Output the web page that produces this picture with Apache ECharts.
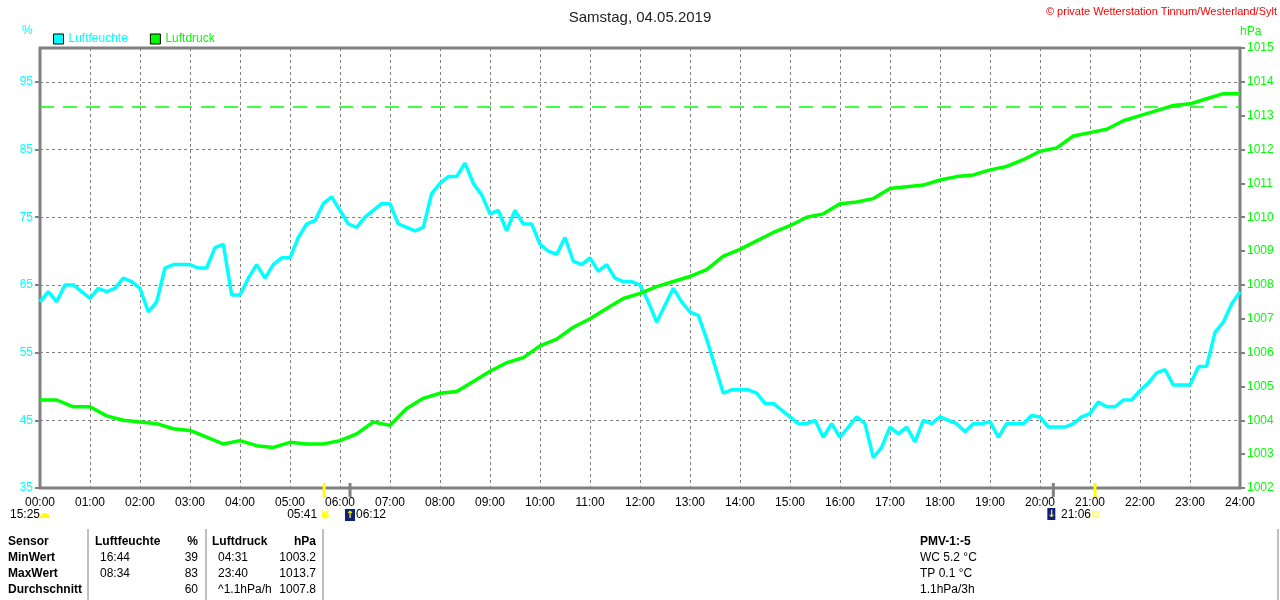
<!DOCTYPE html>
<html>
<head>
<meta charset="utf-8">
<title>Samstag, 04.05.2019</title>
<script src="https://cdn.jsdelivr.net/npm/echarts@6/dist/echarts.min.js"></script>
<style>
  html, body { margin: 0; padding: 0; background: #fff; }
  #main { width: 1280px; height: 600px; }
</style>
</head>
<body>
<div id="main"></div>
<script>
// Luftfeuchte in %, alle 10 Minuten ab 00:00
const humidity = [
  62.5, 64, 62.5, 65, 65, 64, 63, 64.5, 64, 64.5, 66, 65.5,
  64.5, 61, 62.5, 67.5, 68, 68, 68, 67.5, 67.5, 70.5, 71, 63.5,
  63.5, 66, 68, 66, 68, 69, 69, 72, 74, 74.5, 77, 78,
  76, 74, 73.5, 75, 76, 77, 77, 74, 73.5, 73, 73.5, 78.5,
  80, 81, 81, 83, 80, 78.3, 75.5, 76, 73, 76, 74, 74,
  71, 70, 69.5, 72, 68.5, 68, 69, 67, 68, 66, 65.5, 65.5,
  65, 62.5, 59.5, 62, 64.5, 62.5, 61, 60.5, 57, 53, 49, 49.5,
  49.5, 49.5, 49, 47.5, 47.5, 46.5, 45.5, 44.5, 44.5, 45, 42.5, 44.5,
  42.5, 44, 45.5, 44.5, 39.5, 41, 44, 43, 44, 41.8, 45, 44.5,
  45.5, 45, 44.5, 43.3, 44.5, 44.5, 44.8, 42.5, 44.5, 44.5, 44.5, 45.7,
  45.5, 44, 44, 44, 44.5, 45.5, 46, 47.7, 47, 47, 48, 48,
  49.4, 50.5, 52, 52.5, 50.2, 50.2, 50.2, 52.9, 53, 58, 59.5, 62.2,
  64
]
// Luftdruck in hPa, alle 20 Minuten ab 00:00
const pressure = [
  1004.6, 1004.6, 1004.4, 1004.4, 1004.13, 1004.0, 1003.95, 1003.9, 1003.75,
  1003.7, 1003.5, 1003.3, 1003.4, 1003.25, 1003.2, 1003.35, 1003.3, 1003.3, 1003.4,
  1003.6, 1003.95, 1003.85, 1004.35, 1004.65, 1004.8, 1004.85, 1005.15, 1005.45,
  1005.7, 1005.85, 1006.2, 1006.4, 1006.75, 1007.0, 1007.3, 1007.6, 1007.75,
  1007.95, 1008.1, 1008.25, 1008.45, 1008.85, 1009.05, 1009.3, 1009.55, 1009.75,
  1010.0, 1010.1, 1010.4, 1010.45, 1010.55, 1010.85, 1010.9, 1010.95, 1011.1,
  1011.2, 1011.25, 1011.4, 1011.5, 1011.7, 1011.95, 1012.05, 1012.4, 1012.5,
  1012.6, 1012.85, 1013.0, 1013.15, 1013.3, 1013.35, 1013.5, 1013.65, 1013.65
]
const humStep = 10
const presStep = 20
const normPressure = 1013.25

// Tabelle unten
const tableRows = [
  ['Sensor', 'Luftfeuchte', '%', 'Luftdruck', 'hPa'],
  ['MinWert', '16:44', '39', '04:31', '1003.2'],
  ['MaxWert', '08:34', '83', '23:40', '1013.7'],
  ['Durchschnitt', '', '60', '^1.1hPa/h', '1007.8']
]
const pmvLines = ['PMV-1:-5', 'WC 5.2 °C', 'TP 0.1 °C', '1.1hPa/3h']

// Sonne / Mond (Minuten)
const sunrise = 341   // 05:41
const moonA = 372     // 06:12
const moonB = 1216
const sunset = 1266   // 21:06

const FONT = '"Liberation Sans", Arial, sans-serif'
const CYAN = '#00ffff'
const GREEN = '#00ff00'
const GRAY = '#808080'

function pad(n) { return (n < 10 ? '0' : '') + n }

let myChart = echarts.init(document.getElementById('main'))

myChart.setOption({
  animation: false,
  backgroundColor: '#fff',
  textStyle: { fontFamily: FONT },
  title: {
    text: 'Samstag, 04.05.2019',
    left: 'center',
    top: 5,
    textStyle: { fontSize: 15, fontWeight: 'normal', color: '#222', fontFamily: FONT }
  },
  legend: {
    left: 48,
    top: 28,
    icon: 'rect',
    itemWidth: 10,
    itemHeight: 10,
    itemGap: 22,
    itemStyle: { borderColor: '#000', borderWidth: 1 },
    data: [
      { name: 'Luftfeuchte', textStyle: { color: CYAN } },
      { name: 'Luftdruck', textStyle: { color: GREEN } }
    ],
    textStyle: { fontSize: 12, fontFamily: FONT }
  },
  grid: {
    left: 40, right: 40, top: 48, bottom: 112,
    show: true, borderColor: GRAY, borderWidth: 3
  },
  xAxis: {
    type: 'value',
    min: 0, max: 1440, interval: 60,
    axisLine: { show: false },
    axisTick: { show: false },
    axisLabel: {
      color: '#000', fontSize: 12, margin: 9, fontFamily: FONT,
      formatter: v => pad(v / 60) + ':00'
    },
    splitLine: { show: true, lineStyle: { color: GRAY, type: [3, 3], width: 1 } }
  },
  yAxis: [
    {
      type: 'value',
      min: 35, max: 100, interval: 10,
      axisLine: { show: false },
      axisTick: { show: true, length: 5, lineStyle: { color: GRAY, width: 2 } },
      axisLabel: { color: CYAN, fontSize: 12, margin: 7, showMaxLabel: false, fontFamily: FONT },
      splitLine: { show: true, lineStyle: { color: GRAY, type: [3, 3], width: 1 } }
    },
    {
      type: 'value',
      min: 1002, max: 1015, interval: 1,
      axisLine: { show: false },
      axisTick: { show: true, length: 5, lineStyle: { color: GRAY, width: 2 } },
      axisLabel: { color: GREEN, fontSize: 12, margin: 7, fontFamily: FONT, formatter: v => String(v) },
      splitLine: { show: false }
    }
  ],
  series: [
    {
      name: 'Luftfeuchte',
      type: 'line',
      yAxisIndex: 0,
      showSymbol: false,
      color: CYAN,
      lineStyle: { width: 3.5, color: CYAN },
      data: humidity.map((v, i) => [i * humStep, v]),
      z: 3
    },
    {
      name: 'Luftdruck',
      type: 'line',
      yAxisIndex: 1,
      showSymbol: false,
      color: GREEN,
      lineStyle: { width: 3.5, color: GREEN },
      data: pressure.map((v, i) => [i * presStep, v]),
      markLine: {
        silent: true,
        symbol: 'none',
        label: { show: false },
        lineStyle: { color: GREEN, type: [14, 9], width: 1.5 },
        data: [{ yAxis: normPressure }]
      },
      z: 4
    }
  ]
})

// Zusatzgrafik: Achsennamen, Copyright, Sonne/Mond, Tabelle
function px(t) { return myChart.convertToPixel({ xAxisIndex: 0 }, t) }
const axisY = myChart.convertToPixel({ yAxisIndex: 0 }, 35)

let g = []
g.push({ type: 'text', left: 22, top: 25, style: { text: '%', fill: CYAN, font: '12px ' + FONT } })
g.push({ type: 'text', left: 1240, top: 26, style: { text: 'hPa', fill: GREEN, font: '12px ' + FONT } })
g.push({ type: 'text', right: 3, top: 6, style: { text: '© private Wetterstation Tinnum/Westerland/Sylt', fill: '#ff0000', font: '11px ' + FONT } })

// Markierungen an der Zeitachse
;[[sunrise, '#ffff00'], [moonA, GRAY], [moonB, GRAY], [sunset, '#ffff00']].forEach(([t, c]) => {
  const x = px(t)
  g.push({ type: 'line', shape: { x1: x, y1: axisY - 5, x2: x, y2: axisY + 9 }, style: { stroke: c, lineWidth: 3 }, z: 10 })
})

const iconY = 515
g.push({ type: 'text', x: 10, y: iconY, style: { text: '15:25', fill: '#000', font: '12px ' + FONT, textVerticalAlign: 'middle' } })
g.push({ type: 'sector', shape: { cx: 45, cy: iconY + 3, r: 5, r0: 0, startAngle: Math.PI, endAngle: Math.PI * 2 }, style: { fill: '#ffff00' } })
g.push({ type: 'text', x: px(sunrise) - 7, y: iconY, style: { text: '05:41', fill: '#000', font: '12px ' + FONT, textAlign: 'right', textVerticalAlign: 'middle' } })
g.push({ type: 'circle', shape: { cx: px(sunrise) + 1, cy: iconY, r: 3.5 }, style: { fill: '#ffff00' } })
g.push({ type: 'text', x: px(sunrise) + 1, y: iconY, style: { text: '✳', fill: '#ffff40', font: '13px "DejaVu Sans"', textAlign: 'center', textVerticalAlign: 'middle' } })
g.push({ type: 'rect', shape: { x: px(moonA) - 5, y: iconY - 6, width: 10, height: 12 }, style: { fill: '#10207a' } })
g.push({ type: 'text', x: px(moonA), y: iconY, style: { text: '↑', fill: '#ffff00', font: 'bold 10px "DejaVu Sans"', textAlign: 'center', textVerticalAlign: 'middle' } })
g.push({ type: 'text', x: px(moonA) + 6, y: iconY, style: { text: '06:12', fill: '#000', font: '12px ' + FONT, textVerticalAlign: 'middle' } })
g.push({ type: 'rect', shape: { x: px(moonB) - 6, y: iconY - 7, width: 8, height: 12 }, style: { fill: '#10207a' } })
g.push({ type: 'text', x: px(moonB) - 2, y: iconY - 1, style: { text: '↓', fill: '#ffff00', font: 'bold 10px "DejaVu Sans"', textAlign: 'center', textVerticalAlign: 'middle' } })
g.push({ type: 'text', x: px(sunset) - 34, y: iconY, style: { text: '21:06', fill: '#000', font: '12px ' + FONT, textVerticalAlign: 'middle' } })
g.push({ type: 'rect', shape: { x: px(sunset) - 2, y: iconY - 3, width: 5, height: 5 }, style: { fill: 'none', stroke: '#ffff00', lineWidth: 1 } })

// Tabelle
const colX = [8, 100, 198, 218, 316]
const colAlign = ['left', 'left', 'right', 'left', 'right']
tableRows.forEach((row, r) => {
  row.forEach((cell, c) => {
    let x = colX[c]
    if (r === 0 && c === 1) x = 95
    if (r === 0 && c === 3) x = 212
    const bold = r === 0 || c === 0
    g.push({
      type: 'text', x: x, y: 542 + r * 16,
      style: { text: cell, fill: '#000', font: (bold ? 'bold ' : '') + '12px ' + FONT, textAlign: colAlign[c], textVerticalAlign: 'middle' }
    })
  })
})
;[88, 206, 323, 1278].forEach(x => {
  g.push({ type: 'line', shape: { x1: x, y1: 529, x2: x, y2: 600 }, style: { stroke: GRAY, lineWidth: 1 } })
})
pmvLines.forEach((t, i) => {
  g.push({
    type: 'text', x: 920, y: 542 + i * 16,
    style: { text: t, fill: '#000', font: (i === 0 ? 'bold ' : '') + '12px ' + FONT, textVerticalAlign: 'middle' }
  })
})

myChart.setOption({ graphic: g })
</script>
</body>
</html>
